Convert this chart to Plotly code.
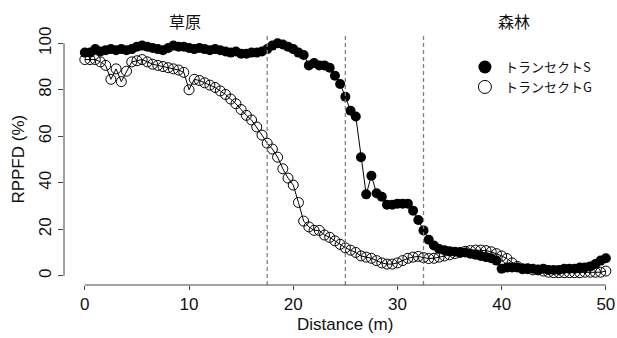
import numpy as np
import plotly.graph_objects as go

distance = [i * 0.5 for i in range(101)]

transect_s = [
    96, 96, 97.5, 96.5, 97, 97.5, 97, 97.5, 97, 97.5,
    98.5, 99, 98.5, 98, 97.5, 97, 98, 99, 98.5, 98.5,
    98, 97.5, 98, 97.5, 97, 97.5, 97, 96.5, 96, 96.5,
    95.5, 95.5, 96, 96, 96.5, 97.5,
    99, 100, 99.5, 98.5, 97.5, 96, 95, 90.5, 91.5, 90.5,
    90.5, 89.5, 86, 82.5, 77, 71, 68.5, 51, 35, 43,
    35.5, 34, 30.5, 30.5, 31, 31, 31, 28, 24, 19.5,
    15.5, 13, 11.5, 11, 10.5, 10.3, 10, 10, 9.5, 9,
    8.5, 8, 7.5, 6.5, 3, 3.5, 3.5, 3.5, 3, 3,
    3, 2.5, 3, 2.5, 2.5, 2.5, 3, 3, 3, 3.5,
    3.5, 4, 5, 6.5, 7.5,
]

transect_g = [
    93, 93, 93, 92, 90.5, 84.5, 89, 83.5, 88, 92,
    92.5, 93, 92, 91, 90.5, 90, 89.5, 89, 88.5, 87.5,
    80, 84.5, 84, 83, 82, 81, 79.5, 78, 76, 74,
    71.5, 69, 67, 64, 60.5, 57,
    54.5, 51, 46, 42, 39, 31.5, 23.5,
    21, 19.5, 19.5, 17.5, 16.5, 15, 13.5, 12, 11, 10,
    8.5, 8, 7.5, 6.5, 5.5, 5, 5, 5.5, 6.5, 7.5,
    8, 8.3, 7.8, 7.4, 7.5, 8, 8.5, 9, 9.5, 10,
    10.5, 10.8, 11, 11, 10.8, 10.3, 9.5, 8.5, 7.4, 5.5,
    4, 3, 3, 2.5, 2.5, 2, 1.5, 1.3, 1.3, 1.3,
    1.3, 1.3, 1.3, 1.5, 1.5, 1.5, 1.5, 2,
]

boundaries = [17.5, 25, 32.5]
x_ticks = [0, 10, 20, 30, 40, 50]
y_ticks = [0, 20, 40, 60, 80, 100]
zone_labels = ["草原", "森林"]
zone_label_x = [9.6, 41.2]
legend_names = ["トランセクトS", "トランセクトG"]
x_title = "Distance (m)"
y_title = "RPPFD (%)"

assert len(distance) == len(transect_s) == len(transect_g)

LAT = "Liberation Sans, Arial, sans-serif"
CJK = "Noto Sans CJK JP, sans-serif"
AXC = "#444444"
TXT = "#111111"

fig = go.Figure()

fig.add_trace(go.Scatter(
    x=distance, y=transect_s, mode="lines+markers",
    line=dict(color="black", width=1),
    marker=dict(symbol="circle", size=10, color="black"),
    showlegend=False, hoverinfo="skip"))

fig.add_trace(go.Scatter(
    x=distance, y=transect_g, mode="lines+markers",
    line=dict(color="black", width=1),
    marker=dict(symbol="circle-open", size=10, color="black", line=dict(width=1, color="black")),
    showlegend=False, hoverinfo="skip"))

fig.add_trace(go.Scatter(
    x=[None], y=[None], mode="markers", name=legend_names[0],
    marker=dict(symbol="circle", size=13, color="black")))
fig.add_trace(go.Scatter(
    x=[None], y=[None], mode="markers", name=legend_names[1],
    marker=dict(symbol="circle-open", size=13, color="black", line=dict(width=1, color="black"))))

for b in boundaries:
    fig.add_shape(type="line", xref="x", yref="paper", x0=b, x1=b, y0=0, y1=1,
                  line=dict(color="#808080", width=1.3, dash="4px,3px"))

# axis lines (R style, spanning only the tick range)
fig.add_shape(type="line", xref="x", yref="paper", x0=x_ticks[0], x1=x_ticks[-1], y0=0, y1=0,
              line=dict(color=AXC, width=1))
fig.add_shape(type="line", xref="paper", yref="y", x0=0, x1=0, y0=y_ticks[0], y1=y_ticks[-1],
              line=dict(color=AXC, width=1))

for lbl, lx in zip(zone_labels, zone_label_x):
    fig.add_annotation(x=lx, y=1.052, xref="x", yref="paper", text=lbl, showarrow=False,
                       font=dict(family=CJK, size=16, color=TXT), yanchor="middle")

fig.add_annotation(x=25, y=-0.158, xref="x", yref="paper", text=x_title, showarrow=False,
                   font=dict(family=LAT, size=17, color=TXT), yanchor="middle")
fig.add_annotation(x=-0.083, y=50, xref="paper", yref="y", text=y_title, showarrow=False,
                   textangle=-90, font=dict(family=LAT, size=17, color=TXT), xanchor="center")

fig.update_xaxes(range=[-2, 51.07], tickvals=x_ticks, ticks="outside", ticklen=4,
                 tickcolor=AXC, tickwidth=1, showline=False, showgrid=False, zeroline=False,
                 automargin=False, ticklabeloverflow="allow",
                 tickfont=dict(family=LAT, size=17, color=TXT))
fig.update_yaxes(range=[-4, 104], tickvals=y_ticks, ticks="outside", ticklen=5,
                 tickcolor=AXC, tickwidth=1, showline=False, showgrid=False, zeroline=False,
                 tickangle=-90, automargin=False, ticklabeloverflow="allow",
                 tickfont=dict(family=LAT, size=17, color=TXT))

fig.update_layout(
    width=617, height=338,
    margin=dict(l=64, r=0, t=34, b=53),
    plot_bgcolor="white", paper_bgcolor="white",
    legend=dict(x=0.725, y=0.928, xanchor="left", yanchor="top",
                font=dict(family=CJK, size=13, color=TXT),
                bgcolor="rgba(0,0,0,0)", itemsizing="trace"),
)

fig.write_html("out.html", config={"displayModeBar": False},
               post_script="document.body.style.margin='0px';document.body.style.overflow='hidden';")
